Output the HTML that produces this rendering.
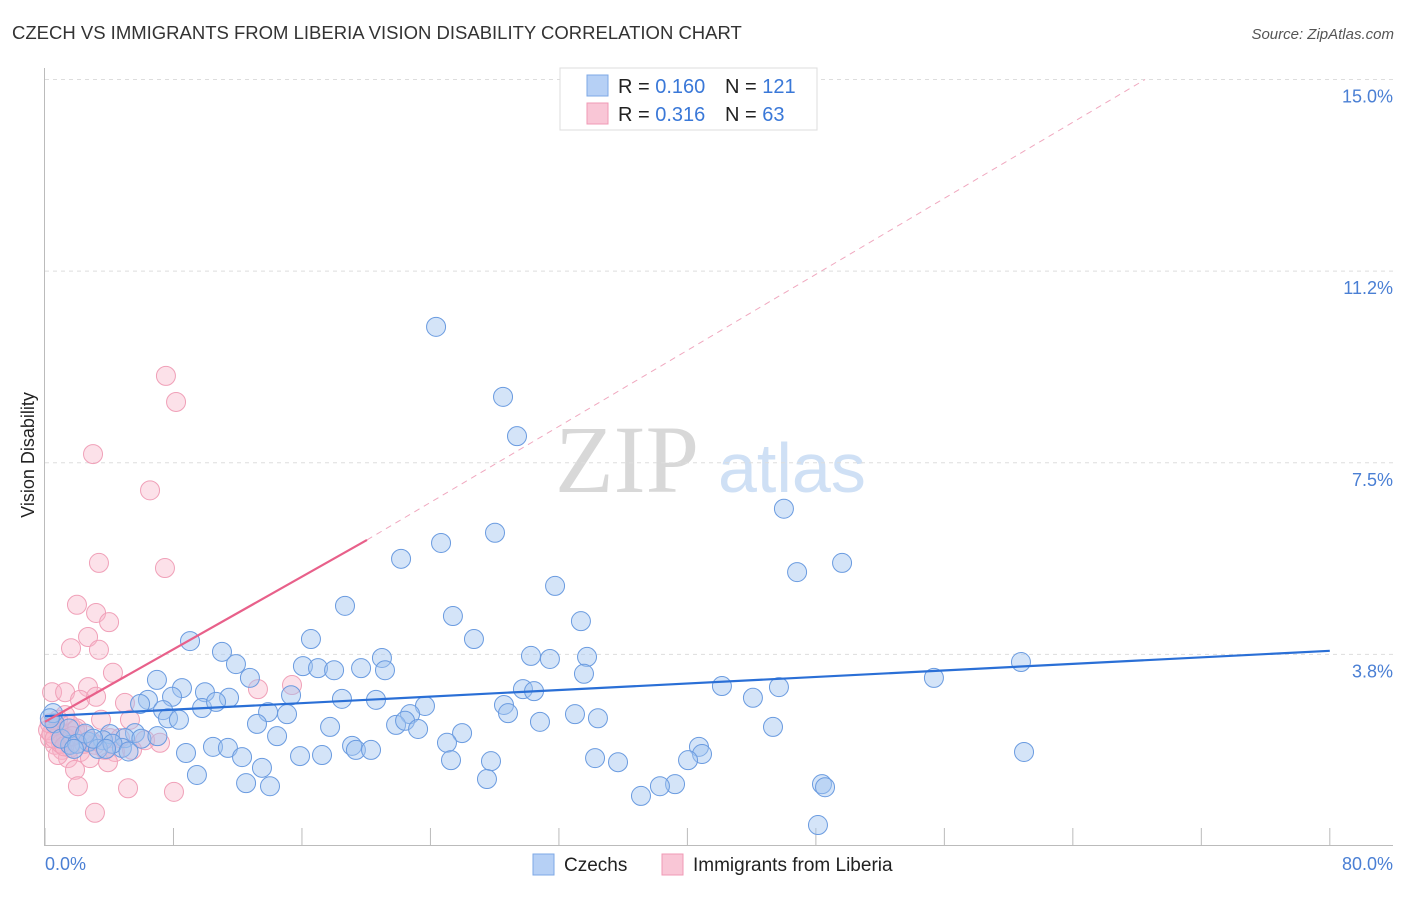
<!DOCTYPE html>
<html><head><meta charset="utf-8"><style>
body{margin:0;background:#fff;font-family:"Liberation Sans",sans-serif}
svg text{font-family:"Liberation Sans",sans-serif}
</style></head><body>
<svg id="c" width="1406" height="892" viewBox="0 0 1406 892">
<text x="12" y="39" font-size="18.5" fill="#333">CZECH VS IMMIGRANTS FROM LIBERIA VISION DISABILITY CORRELATION CHART</text>
<text x="1394" y="39" font-size="15" fill="#555" font-style="italic" text-anchor="end">Source: ZipAtlas.com</text>
<text x="555" y="492" font-size="96" fill="#d8d8d8" font-family="Liberation Serif" style="font-family:'Liberation Serif',serif">ZIP</text>
<text x="718" y="492" font-size="70" fill="#cfe0f5">atlas</text>
<g id="grid"></g><g id="pts"></g><g id="lines"></g>
<text transform="translate(34,455) rotate(-90)" font-size="18" fill="#222" text-anchor="middle">Vision Disability</text>
<text x="45" y="870" font-size="18" fill="#4a7fd4">0.0%</text>
<text x="1393" y="870" font-size="18" fill="#4a7fd4" text-anchor="end">80.0%</text>
<g>
<rect x="560" y="68" width="257" height="62" fill="#fff" stroke="#ddd"/>
<rect x="587" y="75" width="21" height="21" fill="#b6d0f5" stroke="#7ea8e6"/>
<rect x="587" y="103" width="21" height="21" fill="#f9c6d6" stroke="#f09ab5"/>
<text x="618" y="93" font-size="20" fill="#222">R = <tspan fill="#3a78d8">0.160</tspan><tspan x="725">N = </tspan><tspan fill="#3a78d8">121</tspan></text>
<text x="618" y="121" font-size="20" fill="#222">R = <tspan fill="#3a78d8"> 0.316</tspan><tspan x="725">N = </tspan><tspan fill="#3a78d8"> 63</tspan></text>
</g>
<g>
<rect x="533" y="854" width="21" height="21" fill="#b6d0f5" stroke="#7ea8e6"/>
<text x="564" y="871" font-size="19" fill="#222">Czechs</text>
<rect x="662" y="854" width="21" height="21" fill="#f9c6d6" stroke="#f09ab5"/>
<text x="693" y="871" font-size="19" fill="#222">Immigrants from Liberia</text>
</g>
</svg>
<script>
const yTicks=[3.75,7.5,11.25,15];
const yTickLabels=["3.8%","7.5%","11.2%","15.0%"];
const xTicks=[0,8,16,24,32,40,48,56,64,72,80];
const czX=[24.35,28.52,29.39,46.01,28.02,24.66,22.17,49.63,46.83,31.76,18.68,25.40,33.37,26.71,16.56,9.03,11.02,20.98,30.26,31.44,33.75,11.89,16.06,17.00,18.00,19.68,21.17,60.77,12.76,33.56,55.35,6.97,8.53,9.96,42.15,45.70,29.76,30.45,15.32,6.41,7.91,11.46,18.49,20.61,44.08,5.92,7.35,9.78,23.66,28.58,10.65,13.89,15.07,22.73,28.83,33.00,34.43,7.66,8.34,13.20,17.75,21.86,22.42,23.23,30.82,45.33,25.97,14.45,5.60,4.05,4.98,3.61,2.68,25.03,19.12,10.46,11.39,19.36,20.30,17.25,8.78,12.27,15.88,4.79,3.30,1.56,60.96,40.72,40.91,34.25,40.04,25.28,27.77,35.68,13.51,9.46,27.52,12.52,14.01,39.23,38.29,48.38,48.57,37.11,48.13,0.6,1.0,1.5,2.0,2.5,0.5,1.8,3.0,4.2,6.0,7.0,3.8,5.2,0.3];
const czY=[10.16,8.79,8.02,6.60,6.13,5.93,5.62,5.54,5.36,5.09,4.70,4.50,4.40,4.05,4.05,4.01,3.80,3.68,3.72,3.66,3.70,3.56,3.52,3.48,3.44,3.48,3.44,3.60,3.29,3.37,3.29,3.25,3.09,3.01,3.13,3.11,3.07,3.03,2.95,2.86,2.92,2.90,2.88,2.86,2.90,2.78,2.66,2.70,2.74,2.76,2.82,2.62,2.58,2.58,2.60,2.58,2.50,2.50,2.47,2.39,2.33,2.37,2.45,2.29,2.43,2.33,2.21,2.15,2.21,2.19,2.11,2.07,2.04,2.02,1.96,1.94,1.92,1.88,1.88,1.78,1.82,1.74,1.76,1.92,1.90,1.98,1.84,1.94,1.80,1.72,1.68,1.68,1.66,1.64,1.53,1.39,1.31,1.23,1.17,1.21,1.17,1.21,1.15,0.98,0.41,2.4,2.1,2.3,2.0,2.2,2.6,1.9,2.1,2.0,2.1,2.15,1.9,1.85,2.5];
const lbX=[7.53,8.16,2.99,6.54,7.47,3.36,1.99,3.18,3.99,2.68,3.36,1.62,4.23,15.38,13.26,0.44,1.25,2.68,2.18,3.18,4.98,3.49,1.25,5.29,0.62,0.93,1.87,2.49,4.05,4.67,6.23,7.16,0.31,0.62,1.06,1.56,2.18,3.11,3.74,4.36,5.42,2.80,1.43,1.87,3.92,2.05,5.17,8.03,3.11,0.81,0.19,1.31,2.43,0.81,1.56,0.4,1.0,2.0,0.6,1.2,2.9,0.3,1.7];
const lbY=[9.20,8.69,7.67,6.96,5.44,5.54,4.72,4.56,4.38,4.09,3.84,3.87,3.39,3.15,3.07,3.01,3.01,3.11,2.86,2.92,2.80,2.47,2.56,2.47,2.37,2.23,2.27,2.17,2.11,2.11,2.07,2.02,2.11,1.98,1.88,1.92,1.84,1.98,1.88,1.84,1.88,1.72,1.72,1.49,1.64,1.17,1.13,1.06,0.65,1.78,2.27,2.11,2.00,2.47,2.37,2.2,2.0,2.3,2.1,1.95,2.05,2.4,2.15];
const czLine=[[0,2.54],[80,3.82]];
const lbLine=[[0,2.43],[20.05,5.99]];
const lbDash=[[20.05,5.99],[68.5,15]];
const NS="http://www.w3.org/2000/svg";
const X=v=>45+v*16.06, Y=v=>846-v*51.1;
function mk(t,a,p){const e=document.createElementNS(NS,t);for(const k in a)e.setAttribute(k,a[k]);p.appendChild(e);return e;}
const g=document.getElementById('grid');
yTicks.forEach((t,i)=>{
 const l=mk('line',{x1:45,x2:1393,y1:Y(t),y2:Y(t),stroke:'#ddd','stroke-dasharray':'4,4'},g);
 
 
 const tx=mk('text',{x:1393,y:Y(t)+23,'font-size':18,fill:'#4a7fd4','text-anchor':'end'},g);
 tx.textContent=yTickLabels[i];
 
 
});
const ax=mk('line',{x1:44.5,x2:44.5,y1:68,y2:846,stroke:'#bbb'},g);


const bx=mk('line',{x1:45,x2:1393,y1:845.5,y2:845.5,stroke:'#bbb'},g);


xTicks.forEach(t=>{
 const l=mk('line',{x1:X(t),x2:X(t),y1:828,y2:846,stroke:'#bbb'},g);
 
 
});
const p=document.getElementById('pts');
lbX.forEach((x,i)=>{
 const c=mk('circle',{cx:X(x),cy:Y(lbY[i]),r:9.5,fill:'rgba(248,180,200,0.4)',stroke:'#f0a0b8','stroke-width':1},p);
 
 
});
czX.forEach((x,i)=>{
 const c=mk('circle',{cx:X(x),cy:Y(czY[i]),r:9.5,fill:'rgba(160,196,240,0.45)',stroke:'#6a9be0','stroke-width':1},p);
 
 
});
const L=document.getElementById('lines');
const a=mk('line',{x1:X(czLine[0][0]),y1:Y(czLine[0][1]),x2:X(czLine[1][0]),y2:Y(czLine[1][1]),stroke:'#2a6fd6','stroke-width':2.2},L);


const b=mk('line',{x1:X(lbLine[0][0]),y1:Y(lbLine[0][1]),x2:X(lbLine[1][0]),y2:Y(lbLine[1][1]),stroke:'#e8608a','stroke-width':2.2},L);


const d=mk('line',{x1:X(lbDash[0][0]),y1:Y(lbDash[0][1]),x2:X(lbDash[1][0]),y2:Y(lbDash[1][1]),stroke:'#f0a8bf','stroke-width':1,'stroke-dasharray':'6,5'},L);


</script>
</body></html>
